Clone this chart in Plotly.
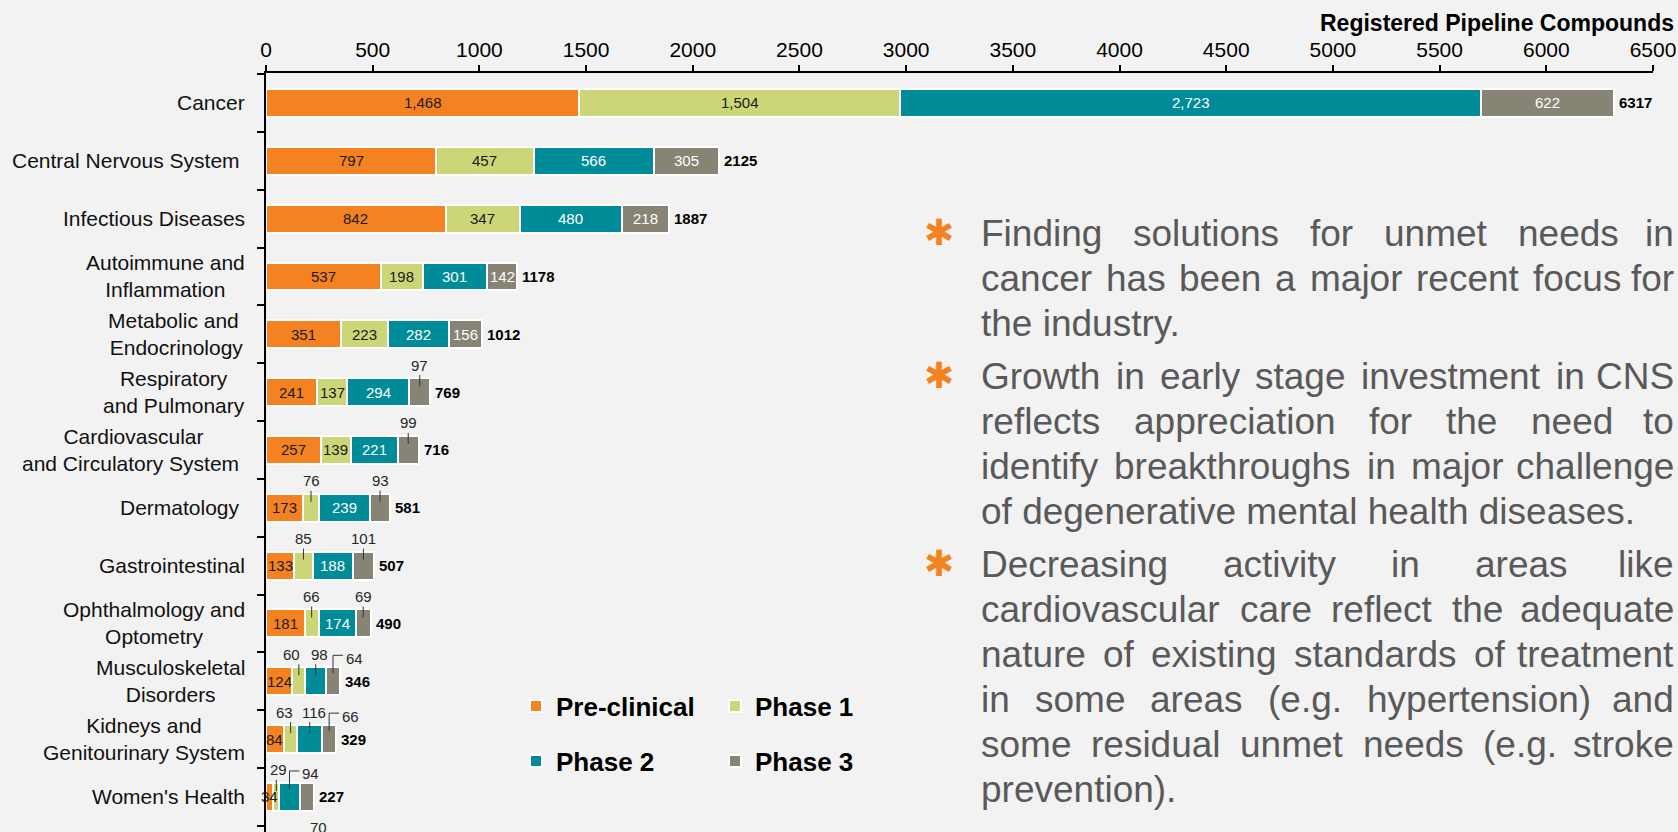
import plotly.graph_objects as go

# ---------------- data ----------------
categories = ["Cancer", "Central Nervous System", "Infectious Diseases",
              "Autoimmune and Inflammation", "Metabolic and Endocrinology",
              "Respiratory and Pulmonary", "Cardiovascular and Circulatory System",
              "Dermatology", "Gastrointestinal", "Ophthalmology and Optometry",
              "Musculoskeletal Disorders", "Kidneys and Genitourinary System",
              "Women's Health"]
category_labels = ["Cancer", "Central Nervous System\u00a0", "Infectious Diseases",
                   "Autoimmune and<br>Inflammation", "Metabolic and\u00a0<br>Endocrinology",
                   "Respiratory<br>and Pulmonary", "Cardiovascular<br>and Circulatory System\u00a0",
                   "Dermatology\u00a0", "Gastrointestinal", "Ophthalmology and<br>Optometry",
                   "Musculoskeletal<br>Disorders", "Kidneys and<br>Genitourinary System",
                   "Women's Health"]
series_names = ["Pre-clinical", "Phase 1", "Phase 2", "Phase 3"]
preclinical = [1468, 797, 842, 537, 351, 241, 257, 173, 133, 181, 124, 84, 34]
phase1 = [1504, 457, 347, 198, 223, 137, 139, 76, 85, 66, 60, 63, 29]
phase2 = [2723, 566, 480, 301, 282, 294, 221, 239, 188, 174, 98, 116, 94]
phase3 = [622, 305, 218, 142, 156, 97, 99, 93, 101, 69, 64, 66, 70]
totals = [6317, 2125, 1887, 1178, 1012, 769, 716, 581, 507, 490, 346, 329, 227]
x_tick_values = list(range(0, 7000, 500))
axis_title = "Registered Pipeline Compounds"

bullets = [
    ["Finding solutions for unmet needs in",
     "cancer has been a major recent focus for",
     "the industry."],
    ["Growth in early stage investment in CNS",
     "reflects appreciation for the need to",
     "identify breakthroughs in major challenge",
     "of degenerative mental health diseases."],
    ["Decreasing activity in areas like",
     "cardiovascular care reflect the adequate",
     "nature of existing standards of treatment",
     "in some areas (e.g. hypertension) and",
     "some residual unmet needs (e.g. stroke",
     "prevention)."],
]

# ---------------- styles ----------------
W, H = 1678, 832
FONT = "Liberation Sans, Arial, sans-serif"
BG = "#F2F2F2"
colors = ["#F58220", "#CDD676", "#008B99", "#878375"]
inside_text_colors = ["#1a1a1a", "#1a1a1a", "#FFFFFF", "#FFFFFF"]
X_LEFT_PX, X_RIGHT_PX = 266, 1653
AX_TOP_PX = 73
ROW0_PX, ROW_STEP_PX = 103, 57.83
BAR_WIDTH = 0.484
UNITS_PER_PX = (x_tick_values[-1] - x_tick_values[0]) / (X_RIGHT_PX - X_LEFT_PX)
PX_PER_ROW = ROW_STEP_PX

ELBOW = {("Musculoskeletal Disorders", 3), ("Kidneys and Genitourinary System", 3),
         ("Women's Health", 2)}
BELOW = {("Women's Health", 3)}
LABEL_NUDGE_PX = {("Musculoskeletal Disorders", 1): -7, ("Musculoskeletal Disorders", 2): 4,
                  ("Kidneys and Genitourinary System", 1): -6,
                  ("Kidneys and Genitourinary System", 2): 4,
                  ("Women's Health", 1): 2}


def px(xp):
    return xp / W


def py(yp):
    return 1 - yp / H


series_values = [preclinical, phase1, phase2, phase3]

fig = go.Figure()
legend_ids = ["legend", "legend2", "legend3", "legend4"]
for k, (name, vals) in enumerate(zip(series_names, series_values)):
    fig.add_trace(go.Bar(
        name=name, y=list(range(len(categories))), x=vals, orientation="h",
        width=BAR_WIDTH,
        marker=dict(color=colors[k], line=dict(color="white", width=2)),
        legend=legend_ids[k], hoverinfo="x+name",
    ))

annotations = []
shapes = []

# category labels
for i, lab in enumerate(category_labels):
    annotations.append(dict(x=px(247), xref="paper", y=i, yref="y", text=lab,
                            xanchor="right", yanchor="middle", align="center",
                            showarrow=False, font=dict(family=FONT, size=21, color="#111111")))

# segment labels
row_px = 1 / PX_PER_ROW
for i, cat in enumerate(categories):
    base = 0
    for k, vals in enumerate(series_values):
        v = vals[i]
        xc = base + v / 2
        label = f"{v:,}"
        if k == 0 or v >= 120:
            annotations.append(dict(x=xc, y=i, xref="x", yref="y", text=label, showarrow=False,
                                    xanchor="center", yanchor="middle",
                                    font=dict(family=FONT, size=15, color=inside_text_colors[k])))
        elif (cat, k) in ELBOW:
            hx = xc + 10 * UNITS_PER_PX
            hy = i - 26 * row_px
            shapes.append(dict(type="path", xref="x", yref="y",
                               path=f"M{xc},{i - 8 * row_px} L{xc},{hy} L{hx},{hy}",
                               line=dict(color="#333333", width=1)))
            annotations.append(dict(x=hx, y=i - 23 * row_px, xref="x", yref="y", text=label,
                                    showarrow=False, xanchor="left", yanchor="middle", xshift=1,
                                    font=dict(family=FONT, size=15, color="#262626")))
        elif (cat, k) in BELOW:
            annotations.append(dict(x=xc + 12 * UNITS_PER_PX, y=i + 31 * row_px, xref="x", yref="y",
                                    text=label, showarrow=False, xanchor="center", yanchor="middle",
                                    font=dict(family=FONT, size=15, color="#262626")))
        else:
            shapes.append(dict(type="line", xref="x", yref="y", x0=xc, x1=xc,
                               y0=i - 6 * row_px, y1=i - 17 * row_px,
                               line=dict(color="#333333", width=1)))
            annotations.append(dict(x=xc, y=i - 27 * row_px, xref="x", yref="y", text=label,
                                    showarrow=False, xanchor="center", yanchor="middle",
                                    xshift=LABEL_NUDGE_PX.get((cat, k), 0),
                                    font=dict(family=FONT, size=15, color="#262626")))
        base += v
    annotations.append(dict(x=totals[i], y=i, xref="x", yref="y", text=f"<b>{totals[i]}</b>",
                            showarrow=False, xanchor="left", yanchor="middle", xshift=3,
                            font=dict(family=FONT, size=15, color="#000000")))

# axis title
annotations.append(dict(x=px(1676), y=py(23), xref="paper", yref="paper",
                        text=f"<b>{axis_title}</b>", showarrow=False,
                        xanchor="right", yanchor="middle",
                        font=dict(family=FONT, size=23, color="#000000")))

# bullet text (justified like the reference)
ARIAL = {' ': 278, '.': 278, ',': 278, '(': 333, ')': 333, '-': 333,
         'a': 556, 'b': 556, 'c': 500, 'd': 556, 'e': 556, 'f': 278, 'g': 556, 'h': 556,
         'i': 222, 'j': 222, 'k': 500, 'l': 222, 'm': 833, 'n': 556, 'o': 556, 'p': 556,
         'q': 556, 'r': 333, 's': 500, 't': 278, 'u': 556, 'v': 500, 'w': 722, 'x': 500,
         'y': 500, 'z': 500, 'C': 722, 'D': 722, 'F': 611, 'G': 778, 'N': 722, 'S': 667}
TXT_SIZE = 37
TXT_LEFT, TXT_RIGHT = 979, 1676
TXT_COLOR = "#595959"


def tw(s):
    return sum(ARIAL.get(c, 556) for c in s) / 1000 * TXT_SIZE


baseline = 246
for p, lines in enumerate(bullets):
    annotations.append(dict(x=px(939), y=py(baseline - 14), xref="paper", yref="paper",
                            text="\u2731", showarrow=False, xanchor="center", yanchor="middle",
                            font=dict(family="DejaVu Sans", size=36, color="#F58220")))
    for li, line in enumerate(lines):
        yc = py(baseline - 0.3465 * TXT_SIZE)
        words = line.split(" ")
        last = li == len(lines) - 1
        if last or len(words) == 1:
            annotations.append(dict(x=px(TXT_LEFT), y=yc, xref="paper", yref="paper", text=line,
                                    showarrow=False, xanchor="left", yanchor="middle",
                                    font=dict(family=FONT, size=TXT_SIZE, color=TXT_COLOR)))
        else:
            total = sum(tw(w) for w in words)
            gap = (TXT_RIGHT - TXT_LEFT - total) / (len(words) - 1)
            xcur = TXT_LEFT
            for wi, w in enumerate(words):
                if wi == len(words) - 1:
                    annotations.append(dict(x=px(TXT_RIGHT), y=yc, xref="paper", yref="paper",
                                            text=w, showarrow=False, xanchor="right",
                                            yanchor="middle",
                                            font=dict(family=FONT, size=TXT_SIZE, color=TXT_COLOR)))
                else:
                    annotations.append(dict(x=px(xcur), y=yc, xref="paper", yref="paper",
                                            text=w, showarrow=False, xanchor="left",
                                            yanchor="middle",
                                            font=dict(family=FONT, size=TXT_SIZE, color=TXT_COLOR)))
                xcur += tw(w) + gap
        baseline += 45
    baseline += 8

# legends (one item each, arranged 2x2)
legend_pos = [(536, 706), (735, 706), (536, 761), (735, 761)]
legend_layouts = {}
for lid, (cx, cy) in zip(legend_ids, legend_pos):
    legend_layouts[lid] = dict(x=px(cx - 20), y=py(cy), xref="paper", yref="paper",
                               xanchor="left", yanchor="middle", bgcolor="rgba(0,0,0,0)",
                               borderwidth=0,
                               font=dict(family=FONT, size=26, color="#000000", weight="bold"))

y_range = [(H - ROW0_PX) / ROW_STEP_PX, (AX_TOP_PX - ROW0_PX) / ROW_STEP_PX]

fig.update_layout(
    width=W, height=H, barmode="stack",
    paper_bgcolor=BG, plot_bgcolor=BG,
    margin=dict(l=0, r=0, t=0, b=0, pad=0),
    font=dict(family=FONT, color="#000000"),
    xaxis=dict(domain=[px(X_LEFT_PX), px(X_RIGHT_PX)], side="top", range=[0, 6500],
               tickvals=x_tick_values, ticktext=[str(v) for v in x_tick_values],
               ticks="outside", ticklen=6, tickwidth=1.5, tickcolor="#000000",
               showline=True, linecolor="#000000", linewidth=1.5, showgrid=False,
               zeroline=False, tickfont=dict(family=FONT, size=21, color="#000000"),
               automargin=False, fixedrange=True),
    yaxis=dict(domain=[0, py(AX_TOP_PX)], range=y_range,
               tickvals=[k - 0.5 for k in range(len(categories) + 1)],
               showticklabels=False, ticks="outside", ticklen=7, tickwidth=1.5,
               tickcolor="#000000", showline=True, linecolor="#000000", linewidth=1.5,
               showgrid=False, zeroline=False, automargin=False, fixedrange=True),
    annotations=annotations, shapes=shapes, showlegend=True,
    **legend_layouts,
)

fig.write_html(
    "out.html",
    config={"displayModeBar": False},
    post_script="document.body.style.margin='0';document.body.style.overflow='hidden';"
                "document.body.style.background='" + BG + "';",
)
